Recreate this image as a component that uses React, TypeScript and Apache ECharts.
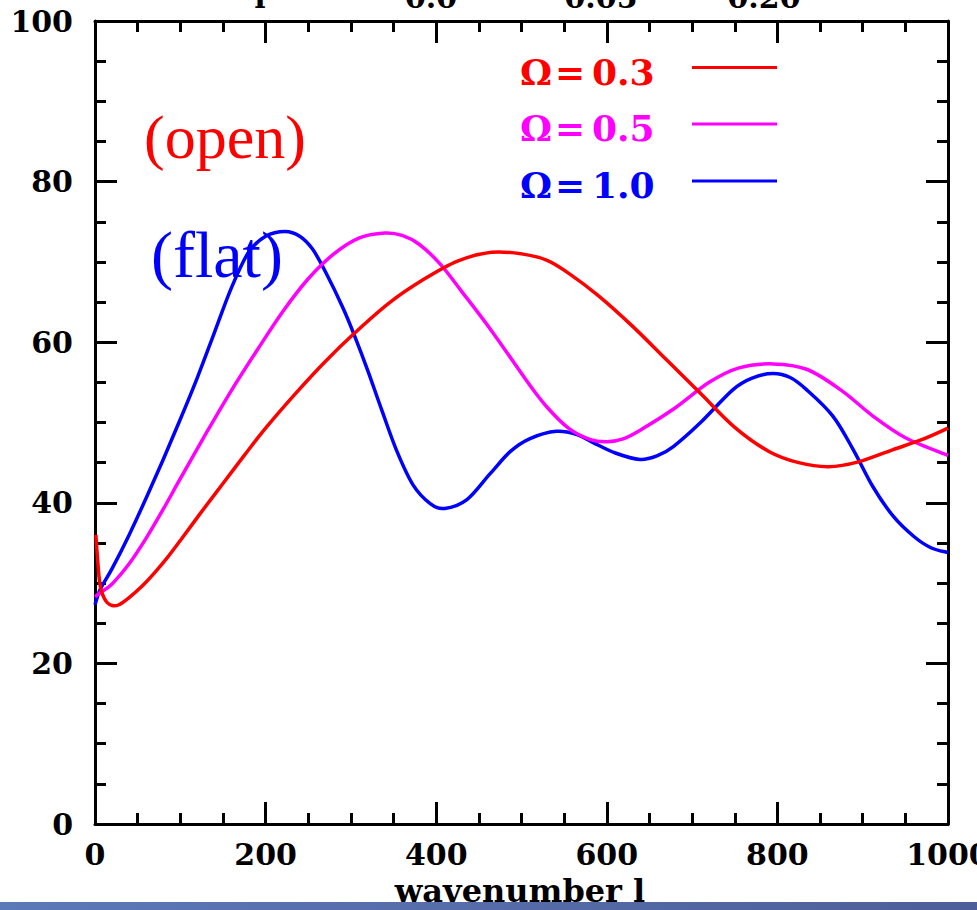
import React, { useEffect, useRef } from "react";
import * as echarts from "echarts";

// Angular power spectrum vs. wavenumber l for three density parameters.
const seriesNames = ["Ω=0.3", "Ω=0.5", "Ω=1.0"];
const seriesColors = ["#ff0000", "#ff00ff", "#0000ff"];

// [l, power] samples
const omega03: [number, number][] = [
  [1, 36], [3, 33], [5, 30.5], [7, 29.2], [10, 28.3], [14, 27.6], [20, 27.2], [28, 27.3],
  [40, 28.2], [55, 29.6], [70, 31.3], [85, 33.2], [100, 35.3], [125, 38.9], [150, 42.4],
  [175, 45.9], [200, 49.3], [235, 53.6], [270, 57.6], [305, 61.2], [345, 64.9], [385, 67.8],
  [425, 70.1], [465, 71.2], [500, 71.0], [530, 70.2], [555, 68.6], [590, 65.8], [630, 62],
  [670, 57.8], [710, 53.6], [750, 49.4], [790, 46.4], [825, 45], [860, 44.5], [895, 45.1],
  [935, 46.6], [970, 47.9], [1000, 49.3],
];

const omega05: [number, number][] = [
  [0, 28.3], [6, 28.8], [20, 29.9], [40, 32.4], [60, 35.6], [80, 39.2], [100, 43],
  [130, 48.6], [160, 54.0], [190, 59.0], [220, 63.8], [250, 67.9], [280, 71.0], [310, 73.0],
  [340, 73.6], [360, 73.3], [380, 72.2], [405, 69.7], [430, 66.3], [465, 61.4], [510, 54.6],
  [530, 51.9], [555, 49.3], [580, 47.9], [600, 47.6], [620, 48], [640, 49.1], [680, 51.8],
  [720, 55], [755, 56.8], [795, 57.3], [835, 56.6], [875, 54], [912, 50.8], [950, 48.1],
  [1000, 45.9],
];

const omega10: [number, number][] = [
  [0, 27.3], [6, 29.2], [20, 31.8], [40, 36], [60, 40.6], [80, 45.4], [100, 50.4],
  [120, 55.6], [140, 61.2], [160, 66.8], [180, 71.2], [200, 73.2], [223, 73.8], [240, 73.2],
  [255, 71.6], [270, 68.8], [291, 64.2], [305, 60.6], [320, 56.4], [336, 51.6], [354, 46.4],
  [373, 42.2], [393, 39.9], [410, 39.3], [436, 40.4], [463, 43.6], [487, 46.4], [510, 48],
  [541, 48.9], [565, 48.5], [584, 47.5], [610, 46.2], [639, 45.4], [660, 45.9], [678, 47],
  [709, 49.9], [748, 54.1], [772, 55.6], [795, 56.1], [815, 55.6], [834, 54.1], [865, 50.8],
  [889, 46.6], [912, 42], [936, 38.3], [960, 35.8], [980, 34.4], [1000, 33.8],
];

const seriesData = [omega03, omega05, omega10];

// Axis ranges and tick steps
const xRange = [0, 1000];
const xStep = 200;
const yRange = [0, 100];
const yStep = 20;

// Labels of the panel above, only their lower edge is visible
const topFragments = ["l", "0.0", "0.05", "0.20"];

const tickFont = "'DejaVu Serif', serif";

// Catmull-Rom spline through pixel points, written as cubic Bézier segments
function splinePath(pts: number[][]): string {
  if (!pts.length) return "";
  let d = `M${pts[0][0]},${pts[0][1]}`;
  for (let i = 0; i < pts.length - 1; i++) {
    const p0 = pts[i - 1] || pts[i];
    const p1 = pts[i];
    const p2 = pts[i + 1];
    const p3 = pts[i + 2] || p2;
    const c1x = p1[0] + (p2[0] - p0[0]) / 6;
    const c1y = p1[1] + (p2[1] - p0[1]) / 6;
    const c2x = p2[0] - (p3[0] - p1[0]) / 6;
    const c2y = p2[1] - (p3[1] - p1[1]) / 6;
    d += ` C${c1x},${c1y} ${c2x},${c2y} ${p2[0]},${p2[1]}`;
  }
  return d;
}

export default function App() {
  const ref = useRef<HTMLDivElement>(null);

  useEffect(() => {
    if (!ref.current) return;
    const chart = echarts.init(ref.current, null, { renderer: "svg" });

    const tickCommon = {
      axisLine: { show: true, onZero: false, lineStyle: { color: "#000", width: 3 } },
      axisTick: { show: true, inside: true, length: 22, lineStyle: { color: "#000", width: 3 } },
      minorTick: { show: true, splitNumber: 4, length: 11, lineStyle: { color: "#000", width: 3 } },
      splitLine: { show: false },
      minorSplitLine: { show: false },
    };

    const xAxisBase = { type: "value", min: xRange[0], max: xRange[1], interval: xStep, ...tickCommon };
    const yAxisBase = { type: "value", min: yRange[0], max: yRange[1], interval: yStep, ...tickCommon };

    const legendX = [520, 555, 592];
    const legendY = [71.5, 128, 185];

    const graphic: any[] = [];
    seriesNames.forEach((name, i) => {
      const sym = name.slice(0, 1);
      const val = name.slice(2);
      const font = `bold 36px ${tickFont}`;
      graphic.push(
        { type: "text", x: legendX[0], y: legendY[i], style: { text: sym, fill: seriesColors[i], font, verticalAlign: "middle" } },
        { type: "text", x: legendX[1], y: legendY[i], style: { text: "=", fill: seriesColors[i], font, verticalAlign: "middle" } },
        { type: "text", x: legendX[2], y: legendY[i], style: { text: val, fill: seriesColors[i], font, verticalAlign: "middle" } },
        { type: "line", shape: { x1: 692, y1: legendY[i] - 4, x2: 777, y2: legendY[i] - 4 }, style: { stroke: seriesColors[i], lineWidth: 3 } }
      );
    });

    graphic.push(
      { type: "text", x: 144, y: 137, style: { text: "(open)", fill: "#ff0000", font: "62px 'Liberation Serif', 'Times New Roman', serif", verticalAlign: "middle" } },
      { type: "text", x: 151, y: 254, style: { text: "(flat)", fill: "#0000ff", font: "66px 'Liberation Serif', 'Times New Roman', serif", verticalAlign: "middle" } },
      { type: "text", x: 520, y: 891, style: { text: "wavenumber l", fill: "#000", font: `bold 32px ${tickFont}`, align: "center", verticalAlign: "middle" } }
    );

    const fragCenters = [260, 431, 601, 764];
    topFragments.forEach((t, i) => {
      graphic.push({
        type: "text", x: fragCenters[i], y: -3,
        style: { text: t, fill: "#000", font: `bold 30px ${tickFont}`, align: "center", verticalAlign: "middle" },
      });
    });

    graphic.push({
      type: "rect", z: 100, shape: { x: 0, y: 902, width: 977, height: 8 },
      style: {
        fill: new echarts.graphic.LinearGradient(0, 0, 1, 0, [
          { offset: 0, color: "#5c79b8" },
          { offset: 1, color: "#4d5f98" },
        ]),
      },
    });

    const labelStyle = { show: true, color: "#000", fontFamily: tickFont, fontWeight: "bold", fontSize: 30, formatter: (v: number) => String(v) };

    chart.setOption({
      animation: false,
      backgroundColor: "#ffffff",
      grid: { left: 95, top: 21, width: 853, height: 803, containLabel: false, outerBoundsMode: "none" },
      xAxis: [
        { ...xAxisBase, position: "bottom", axisLabel: { ...labelStyle, margin: 15 } },
        { ...xAxisBase, position: "top", axisLabel: { show: false } },
      ],
      yAxis: [
        { ...yAxisBase, position: "left", axisLabel: { ...labelStyle, margin: 22 } },
        { ...yAxisBase, position: "right", axisLabel: { show: false } },
      ],
      series: [2, 1, 0].map((i) => ({
        name: seriesNames[i],
        type: "custom",
        coordinateSystem: "cartesian2d",
        xAxisIndex: 0,
        yAxisIndex: 0,
        data: seriesData[i],
        encode: { x: 0, y: 1 },
        silent: true,
        z: 3,
        renderItem: (params: any, api: any) => {
          if (params.dataIndex !== 0) return null;
          const pts = seriesData[i].map((p) => api.coord(p));
          return {
            type: "path",
            shape: { pathData: splinePath(pts) },
            style: { fill: "none", stroke: seriesColors[i], lineWidth: 3.5, lineJoin: "round" },
          };
        },
      })),
      graphic,
    });

    return () => chart.dispose();
  }, []);

  return (
    <div
      ref={ref}
      style={{ position: "fixed", left: 0, top: 0, width: 977, height: 910, background: "#fff" }}
    />
  );
}
